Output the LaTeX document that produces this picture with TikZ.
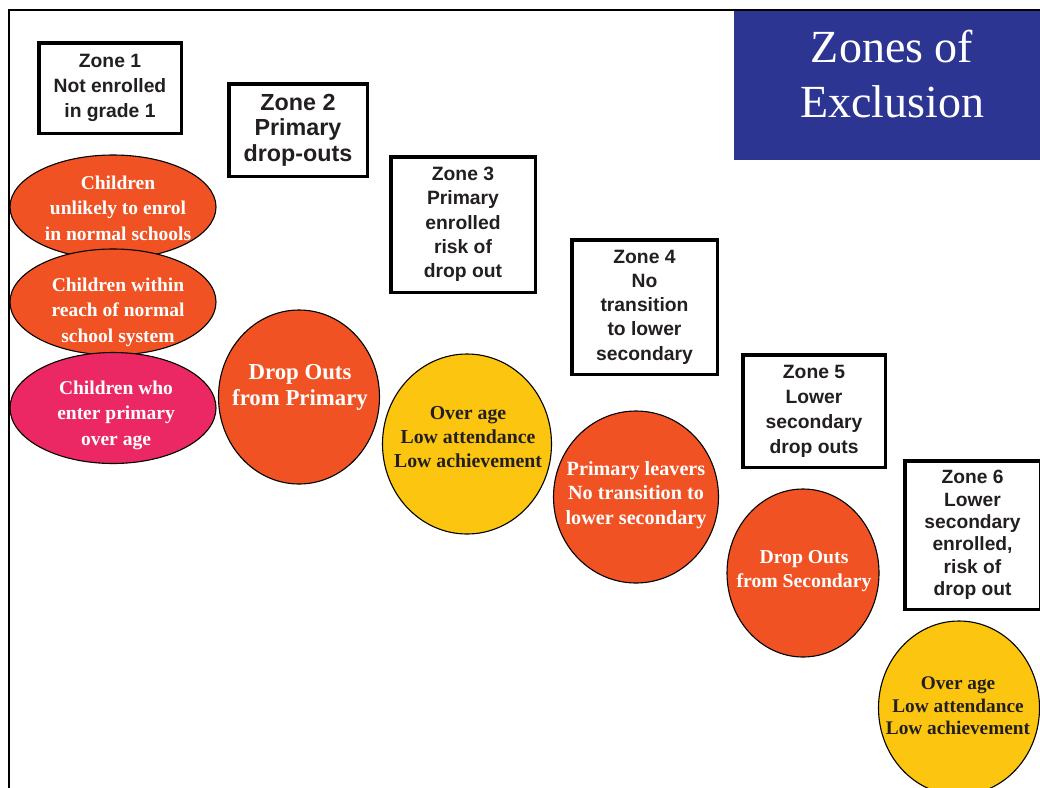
\documentclass[tikz,border=0pt]{standalone}
\usepackage{fontspec}
\setmainfont{Liberation Serif}
\setsansfont{Liberation Sans}
\usepackage{xcolor}
\usetikzlibrary{shapes.geometric}

\definecolor{zoneorange}{HTML}{F05224}
\definecolor{zonepink}{HTML}{EC2864}
\definecolor{zoneyellow}{HTML}{FCC610}
\definecolor{zoneblue}{HTML}{2D3593}
\definecolor{zoneink}{HTML}{231F20}

\tikzset{
	zonebox/.style={draw=black, line width=3.5pt, fill=white, text=zoneink,
	  align=center, inner sep=0pt,
	  execute at begin node={\rule{0pt}{1.03em}},
	  font=\sffamily\bfseries\fontsize{19.3}{25}\selectfont},
	blob/.style={ellipse, draw=black, line width=1.1pt, inner sep=0pt},
	blobtext/.style={text=white, align=center, inner sep=0pt,
	  font=\bfseries\fontsize{19.5}{25.5}\selectfont},
	darktext/.style={blobtext, text=zoneink, font=\bfseries\fontsize{19.8}{24}\selectfont},
}

\begin{document}
\begin{tikzpicture}[x=1pt, y=-1pt]
% the page is 1040 by 787, I will work in pixels with y going down
\useasboundingbox (0,0) rectangle (1040,787);

% frame of the slide, it runs out of the page on the right and at the bottom
\draw[line width=1.5pt] (9,800) -- (9,10) -- (1050,10);

% title in the blue corner
\node[fill=zoneblue, minimum width=306, minimum height=149, inner sep=0pt] (title) at (887,85.5) {};
\node[text=white, align=center, inner sep=0pt,
  font=\fontsize{46}{55}\selectfont] (titletext) at (892,74) {Zones of\\Exclusion};

% the six zone boxes, going down the stairs
\node[zonebox, minimum width=142.5, minimum height=90.5] (zone1) at (110,88) {Zone 1\\Not enrolled\\in grade 1};
\node[zonebox, minimum width=138.5, minimum height=92.5,
  font=\sffamily\bfseries\fontsize{23.3}{25.5}\selectfont] (zone2) at (298,130) {Zone 2\\Primary\\drop-outs};
\node[zonebox, minimum width=144.5, minimum height=135.5,
  font=\sffamily\bfseries\fontsize{19.3}{24.3}\selectfont] (zone3) at (463,224.5) {Zone 3\\Primary\\enrolled\\risk of\\drop out};
\node[zonebox, minimum width=145.5, minimum height=134.5,
  font=\sffamily\bfseries\fontsize{19.3}{24.3}\selectfont] (zone4) at (644.5,307) {Zone 4\\No\\transition\\to lower\\secondary};
\node[zonebox, minimum width=142.5, minimum height=112.5] (zone5) at (814,411) {Zone 5\\Lower\\secondary\\drop outs};
\node[zonebox, minimum width=135.5, minimum height=148.5,
  font=\sffamily\bfseries\fontsize{19.2}{22.4}\selectfont] (zone6) at (972.5,535) {Zone 6\\Lower\\secondary\\enrolled,\\risk of\\drop out};

% zone 1: three stacked ellipses, each one lies over the one above
\node[blob, fill=zoneorange, minimum width=206, minimum height=104] (unlikely) at (113,207) {};
\node[blobtext] (unlikelytext) at (118,208) {Children\\unlikely to enrol\\in normal schools};
\node[blob, fill=zoneorange, minimum width=206, minimum height=106] (reach) at (113,302) {};
\node[blobtext] (reachtext) at (118,312) {Children within\\reach of normal\\school system};
\node[blob, fill=zonepink, minimum width=206, minimum height=111] (overage) at (113,408) {};
\node[blobtext] (overagetext) at (116,415) {Children who\\enter primary\\over age};

% one circle under each of the other zones
\node[blob, fill=zoneorange, minimum width=161, minimum height=174] (dropprim) at (299,397) {};
\node[blobtext, font=\bfseries\fontsize{22.8}{26}\selectfont] (dropprimtext) at (300,387) {Drop Outs\\from Primary};
\node[blob, fill=zoneyellow, minimum width=169, minimum height=180] (riskprim) at (467,444) {};
\node[darktext] (riskprimtext) at (468,437) {Over age\\Low attendance\\Low achievement};
\node[blob, fill=zoneorange, minimum width=165, minimum height=172] (leavers) at (636,497) {};
\node[blobtext, font=\bfseries\fontsize{20.2}{24.5}\selectfont] (leaverstext) at (636,495) {Primary leavers\\No transition to\\lower secondary};
\node[blob, fill=zoneorange, minimum width=152, minimum height=168] (dropsec) at (803,573) {};
\node[blobtext, font=\bfseries\fontsize{19.7}{24}\selectfont] (dropsectext) at (804,571) {Drop Outs\\from Secondary};
\node[blob, fill=zoneyellow, minimum width=161, minimum height=174] (risksec) at (959,708) {};
\node[darktext, font=\bfseries\fontsize{19.3}{22.5}\selectfont] (risksectext) at (958,706) {Over age\\Low attendance\\Low achievement};

\end{tikzpicture}
\end{document}
